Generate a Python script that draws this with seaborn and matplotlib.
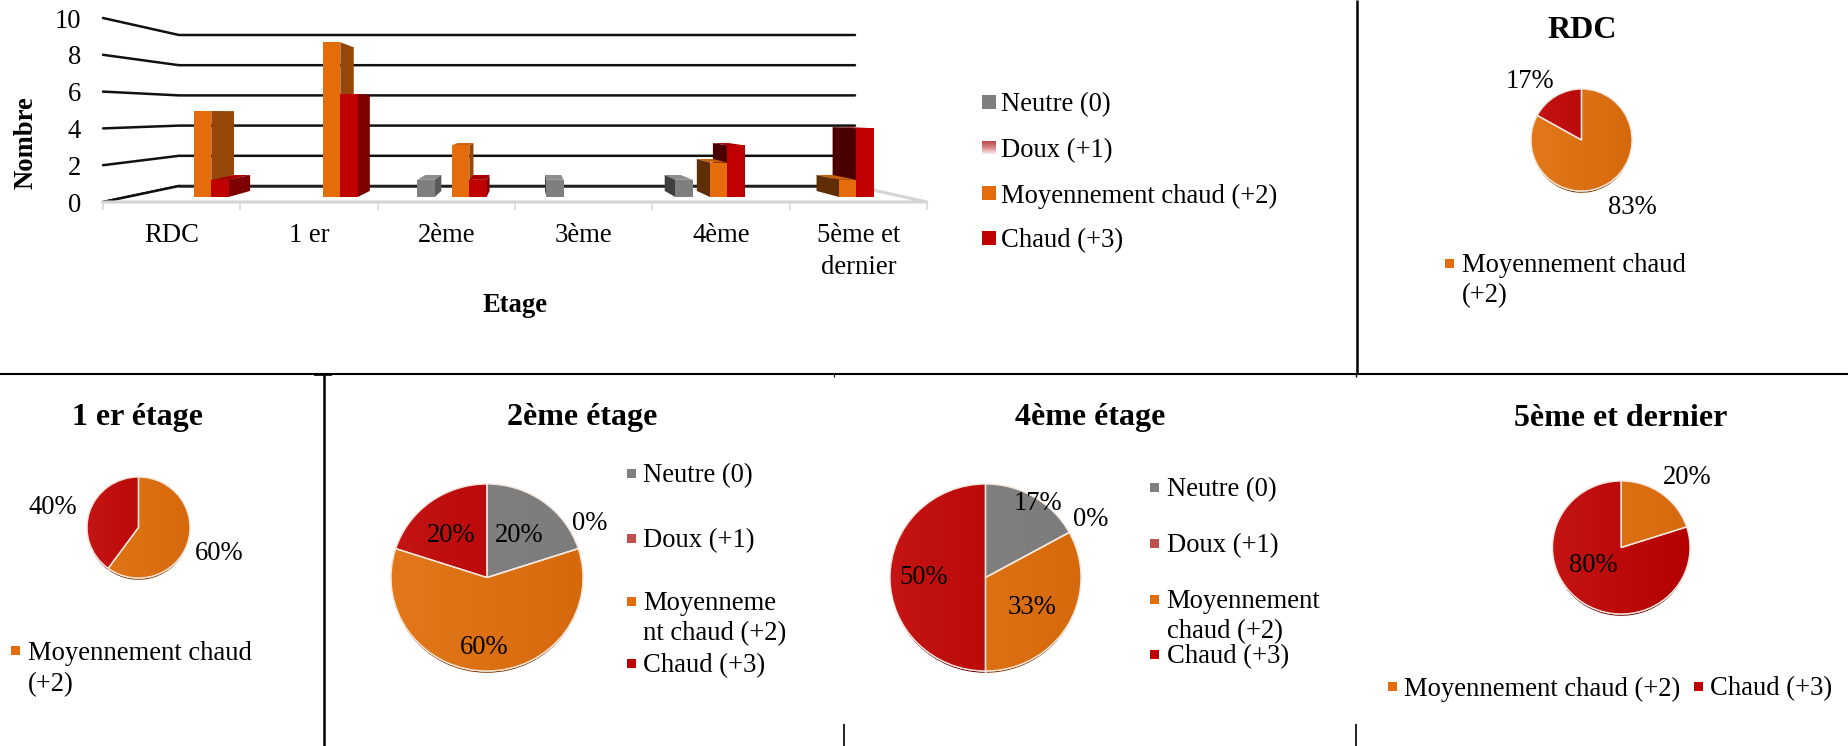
import numpy as np
import pandas as pd
import matplotlib
matplotlib.use("Agg")
import matplotlib.pyplot as plt
from matplotlib.patches import Polygon, Rectangle
from matplotlib.colors import LinearSegmentedColormap, to_rgb
import seaborn as sns

# ---------- data ----------
floors = ["RDC", "1 er", "2ème", "3ème", "4ème", "5ème et\ndernier"]
levels = ["Neutre (0)", "Doux (+1)", "Moyennement chaud (+2)", "Chaud (+3)"]
neutre = [0, 0, 1, 1, 1, 0]
doux = [0, 0, 0, 0, 0, 0]
moyen = [5, 9, 3, 0, 2, 1]
chaud = [1, 6, 1, 0, 3, 4]
y_ticks = [0, 2, 4, 6, 8, 10]

pie_rdc = [83, 17]
pie_1er = [60, 40]
pie_2e = [20, 0, 60, 20]
pie_4e = [17, 0, 33, 50]
pie_5e = [20, 80]

colors = {"Neutre (0)": "#7F7F7F", "Doux (+1)": "#C0504D",
          "Moyennement chaud (+2)": "#E46C0A", "Chaud (+3)": "#C00000"}
right_face = {"#7F7F7F": "#595959", "#E46C0A": "#95480A", "#C00000": "#7C0000"}
left_face = {"#7F7F7F": "#3F3F3F", "#E46C0A": "#5F2E06", "#C00000": "#4A0000"}
top_face = {"#7F7F7F": "#8C8C8C", "#E46C0A": "#C9600C", "#C00000": "#A80000"}
grads = {"#7F7F7F": ("#838383", "#7C7C7C"), "#C0504D": ("#C0504D", "#C0504D"),
         "#E46C0A": ("#E2781B", "#D6690B"), "#C00000": ("#C41414", "#B40000")}

W, H = 1849, 746
sns.set_theme(style="white")
plt.rcParams["font.family"] = ["Liberation Serif", "DejaVu Sans"]
fig = plt.figure(figsize=(W / 100, H / 100), dpi=100, facecolor="white")


def rect(x0, x1, ytop, ybot):
    return [x0 / W, 1 - ybot / H, (x1 - x0) / W, (ybot - ytop) / H]


def canvas(z):
    a = fig.add_axes([0, 0, 1, 1], zorder=z)
    a.set_xlim(0, W)
    a.set_ylim(H, 0)
    a.axis("off")
    a.patch.set_alpha(0)
    return a


bg = canvas(0)
fg = canvas(5)
FS = 19.2

# ---------- frame of the 3D column chart ----------
frame = fig.add_axes(rect(103, 927, 18, 202), zorder=0.5)
frame.patch.set_alpha(0)
frame.set_xlim(-0.5, 5.5)
frame.set_ylim(0, 10)
for s in frame.spines.values():
    s.set_visible(False)
frame.set_yticks(y_ticks)
frame.set_yticklabels([str(v) for v in y_ticks], fontsize=FS, color="black")
frame.set_xticks(range(len(floors)))
frame.set_xticklabels(floors, fontsize=FS, color="black", linespacing=1.38, va="top")
frame.set_xticks(np.arange(-0.5, 6, 1), minor=True)
frame.tick_params(axis="x", which="major", length=0, pad=15)
frame.tick_params(axis="x", which="minor", length=6, color="#D9D9D9", width=1.2, bottom=True)
frame.tick_params(axis="y", length=0, pad=16)
frame.set_xlabel("Etage", fontsize=FS, fontweight="bold", color="black", labelpad=18)
frame.xaxis.set_label_coords((515 - 103) / 824, -(305 - 202) / 184)
frame.xaxis.label.set_va("center")
frame.set_ylabel("Nombre", fontsize=FS, fontweight="bold", color="black")
frame.yaxis.set_label_coords((26 - 103) / 824, (202 - 143) / 184)
frame.yaxis.label.set_va("center")

for v in y_ticks:
    yf = 202 - v * 18.4
    yb = 186 - v * 15.1
    bg.plot([103, 179, 855], [yf, yb, yb], color="#111111", lw=1.8, solid_joinstyle="miter", zorder=1)
bg.add_patch(Polygon([(179, 186), (855, 186), (927, 202), (103, 202)], fc="white", ec="none", zorder=1.5))
bg.plot([179, 855], [186, 186], color="#222222", lw=1.8, zorder=1.6)
bg.plot([103, 179], [202, 186], color="#111111", lw=1.8, zorder=1.6)
bg.plot([103, 927, 855], [202, 202, 186], color="#D4D4D4", lw=2.2, zorder=1.6)

# ---------- front faces of the columns ----------
df = pd.DataFrame({"Etage": floors * 4,
                   "Niveau": np.repeat(levels, len(floors)),
                   "Nombre": neutre + doux + moyen + chaud})
ax = fig.add_axes(rect(129.5, 903.5, 25, 197), zorder=1)
sns.barplot(data=df, x="Etage", y="Nombre", hue="Niveau", order=floors, hue_order=levels,
            palette=colors, width=0.537, gap=0, dodge=True, legend=False, saturation=1,
            errorbar=None, linewidth=0, ax=ax)
ax.set_xlim(-0.5, 5.5)
ax.set_ylim(0, 10)
ax.axis("off")
ax.patch.set_alpha(0)

# ---------- depth faces derived from the bars, with one vanishing point ----------
VP = np.array([527.0, 113.0])
K = 0.072


def px(a, x, y):
    d = a.transData.transform((x, y))
    return np.array([d[0], H - d[1]])


def back(p):
    return p + K * (VP - p)


bars = [b for b in ax.patches if b.get_height() > 0]
bars = sorted(bars, key=lambda b: -abs(px(ax, b.get_x() + b.get_width() / 2, 0)[0] - VP[0]))
for z, b in enumerate(bars):
    c = matplotlib.colors.to_hex(b.get_facecolor()).upper()
    x0, x1, h = b.get_x(), b.get_x() + b.get_width(), b.get_height()
    bl, br, tl, tr = px(ax, x0, 0), px(ax, x1, 0), px(ax, x0, h), px(ax, x1, h)
    zz = 2 + z * 0.01
    if tl[1] > VP[1]:
        bg.add_patch(Polygon([tl, tr, back(tr), back(tl)], fc=top_face[c], ec="none", zorder=zz))
    if br[0] < VP[0]:
        bg.add_patch(Polygon([br, tr, back(tr), back(br)], fc=right_face[c], ec="none", zorder=zz))
    elif bl[0] > VP[0]:
        bg.add_patch(Polygon([bl, tl, back(tl), back(bl)], fc=left_face[c], ec="none", zorder=zz))

# ---------- pies ----------
ALL4 = ["#7F7F7F", "#C0504D", "#E46C0A", "#C00000"]


def dark(c, f=0.55):
    return tuple(v * f for v in to_rgb(c))


def pie(values, cols, x0, x1, y0, y1, z=2):
    sh = fig.add_axes(rect(x0, x1, y0 + 2.5, y1 + 2.5), zorder=z - 0.1)
    sh.pie(values, colors=[dark(c) for c in cols], startangle=90, counterclock=False, radius=1)
    sh.set_aspect("auto")
    sh.set_xlim(-1, 1)
    sh.set_ylim(-1, 1)
    a = fig.add_axes(rect(x0, x1, y0, y1), zorder=z)
    wedges, _ = a.pie(values, colors=cols, startangle=90, counterclock=False, radius=1)
    for w, c in zip(wedges, cols):
        cm = LinearSegmentedColormap.from_list("g", grads[c])
        im = a.imshow(np.linspace(0, 1, 128).reshape(1, -1), extent=(-1, 1, -1, 1), cmap=cm,
                      aspect="auto", zorder=2)
        im.set_clip_path(w)
    a.pie(values, colors=["none"] * len(values), startangle=90, counterclock=False, radius=1,
          wedgeprops=dict(edgecolor="#F4E6DC", linewidth=1.0, zorder=3))
    a.set_aspect("auto")
    a.set_xlim(-1, 1)
    a.set_ylim(-1, 1)
    return a


pie(pie_rdc, ["#E46C0A", "#C00000"], 1531, 1632, 89, 191)
pie(pie_1er, ["#E46C0A", "#C00000"], 87, 190, 477, 578)
pie(pie_2e, ALL4, 391, 583, 484, 671)
pie(pie_4e, ALL4, 890, 1081, 484, 671)
pie(pie_5e, ["#E46C0A", "#C00000"], 1552.5, 1690, 481, 614)

TEXT_DY = 3


def T(x, y, s, ha="center", bold=False, size=FS):
    fg.text(x, y + TEXT_DY, s, ha=ha, va="center", fontsize=size, color="black",
            fontweight="bold" if bold else "normal")


def swatch(x, y, color, s=9):
    fg.add_patch(Rectangle((x, y - s / 2), s, s, fc=color, ec="none"))


# titles
for x, y, s in [(1582, 27, "RDC"), (138, 415, "1 er étage"), (582, 415, "2ème étage"),
                (1090.5, 415, "4ème étage"), (1621, 415, "5ème et dernier")]:
    T(x, y, s, bold=True, size=23)

# slice labels
for x, y, s in [(1529.5, 78, "17%"), (1632, 204, "83%"),
                (52.5, 505, "40%"), (219, 550, "60%"),
                (451, 533, "20%"), (519, 533, "20%"), (590, 520, "0%"), (484, 644, "60%"),
                (1038, 500, "17%"), (1090.5, 517, "0%"), (1032, 604, "33%"), (923.5, 575, "50%"),
                (1687, 474, "20%"), (1593.5, 563, "80%")]:
    T(x, y, s)

# main legend
for y, lab in zip([102, 148, 193, 238], levels):
    c = colors[lab]
    if lab.startswith("Doux"):
        cm = LinearSegmentedColormap.from_list("d", ["#B9474A", "#D88C8C", "#FFFFFF"])
        fg.imshow(np.linspace(0, 1, 32).reshape(-1, 1), extent=(982, 996, y + 7, y - 7), cmap=cm,
                  aspect="auto", zorder=2)
        fg.set_xlim(0, W)
        fg.set_ylim(H, 0)
    else:
        swatch(982, y, c, 14)
    T(1001, y, lab, ha="left")

# pie legends
for sx, tx, y, key, lines in [
    (1445, 1462, 263, "#E46C0A", [(263, "Moyennement chaud"), (293, "(+2)")]),
    (11, 28, 650, "#E46C0A", [(650, "Moyennement chaud"), (682, "(+2)")]),
    (627, 643, 473, "#7F7F7F", [(473, "Neutre (0)")]),
    (627, 643, 538, "#C0504D", [(538, "Doux (+1)")]),
    (627, 643, 601, "#E46C0A", [(601, "Moyenneme"), (631, "nt chaud (+2)")]),
    (627, 643, 663, "#C00000", [(663, "Chaud (+3)")]),
    (1150, 1166.6, 487, "#7F7F7F", [(487, "Neutre (0)")]),
    (1150, 1166.6, 543, "#C0504D", [(543, "Doux (+1)")]),
    (1150, 1166.6, 599, "#E46C0A", [(599, "Moyennement"), (629, "chaud (+2)")]),
    (1150, 1166.6, 654, "#C00000", [(654, "Chaud (+3)")]),
    (1387.5, 1404, 686, "#E46C0A", [(686, "Moyennement chaud (+2)")]),
    (1693.5, 1710, 686, "#C00000", [(686, "Chaud (+3)")]),
]:
    swatch(sx, y, key)
    for ly, s in lines:
        T(tx, ly, s, ha="left")

# table rules around the charts
for xs, ys, lw in [([1357, 1357], [0, 374], 1.8), ([0, W], [374, 374], 1.5),
                   ([323.5, 323.5], [374, H], 1.8), ([844, 844], [724, H], 1.2),
                   ([1356, 1356], [724, H], 1.2), ([314, 332], [375, 375], 1.2),
                   ([1356, 1356], [374, 377], 1.0), ([834, 834], [374, 377], 0.8)]:
    fg.plot(xs, ys, color="black", lw=lw, solid_capstyle="butt")

fig.savefig("out.png", dpi=100, facecolor="white")
